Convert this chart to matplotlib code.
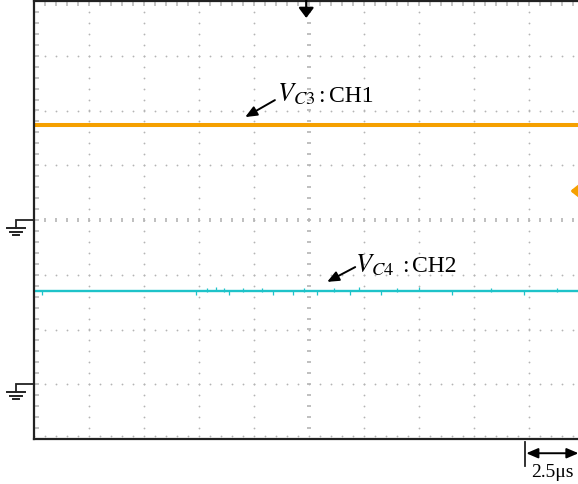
import numpy as np
import matplotlib.pyplot as plt

plt.rcParams['mathtext.fontset'] = 'stix'
plt.rcParams['font.family'] = ['Liberation Serif', 'DejaVu Serif']

# screen in divisions: 10 horizontal, 8 vertical
x_divs = 10
y_divs = 8

# channel levels (divisions from screen centre)
ch1_level = 1.735      # V_C3 on CH1
ch2_level = -1.30      # V_C4 on CH2
ch1_ground = 0.0
ch2_ground = -3.0
trig_level = 0.53

# small glitches seen on the CH2 trace (x in div, offset in div)
ch2_glitch_x = [-4.85, -2.05, -1.85, -1.7, -1.55, -1.45, -1.2, -0.85, -0.65, -0.3,
                -0.1, 0.15, 0.45, 0.75, 0.9, 1.3, 1.6, 2.0, 2.6, 3.3, 3.9, 4.5]
ch2_glitch_dy = [-0.03, -0.04, 0.03, 0.04, 0.03, -0.04, 0.03, 0.03, -0.04, -0.03,
                 0.03, -0.04, 0.03, -0.03, 0.04, -0.03, 0.03, 0.04, -0.03, 0.03, -0.03, 0.03]

orange = '#f5a000'
cyan = '#1ec3c9'
dot = '#b4b4b4'

fig = plt.figure(figsize=(5.78, 4.84), dpi=100)
ax = fig.add_axes([34 / 578, 45 / 484, 550 / 578, 438 / 484])
ax.set_xlim(-x_divs / 2, x_divs / 2)
ax.set_ylim(-y_divs / 2, y_divs / 2)
ax.set_xticks([])
ax.set_yticks([])
for s in ax.spines.values():
    s.set_linewidth(1.6)
    s.set_color('#222222')

# graticule
fx = np.arange(-5, 5.001, 0.2)
fy = np.arange(-4, 4.001, 0.2)
for i in range(-4, 5):
    if i == 0:
        continue
    ax.plot(np.full_like(fy, i), fy, ls='none', marker='o', ms=1.3, mew=0, color=dot)
for j in range(-3, 4):
    if j == 0:
        continue
    ax.plot(fx, np.full_like(fx, j), ls='none', marker='o', ms=1.3, mew=0, color=dot)
ax.plot(np.zeros_like(fy), fy, ls='none', marker='_', ms=3.5, mew=1.2, color=dot)
ax.plot(fx, np.zeros_like(fx), ls='none', marker='|', ms=3.5, mew=1.2, color=dot)
ax.plot(fx, np.full_like(fx, 3.95), ls='none', marker='|', ms=3, mew=1.1, color=dot)
ax.plot(fx, np.full_like(fx, -3.95), ls='none', marker='o', ms=1.3, mew=0, color=dot)
ax.plot(np.full_like(fy, -4.95), fy, ls='none', marker='_', ms=3, mew=1.1, color=dot)

# traces
ax.plot([-5, 5], [ch1_level, ch1_level], color=orange, lw=2.9, solid_capstyle='butt')
ax.plot([-5, 5], [ch2_level, ch2_level], color=cyan, lw=1.7, solid_capstyle='butt')
ax.plot(ch2_glitch_x, np.array(ch2_glitch_dy) + ch2_level, ls='none', marker='|',
        ms=2.2, mew=0.9, color=cyan)

# trigger position (top) and trigger level (right)
ax.annotate('', xy=(-0.05, 3.69), xytext=(-0.05, 4.02),
            arrowprops=dict(arrowstyle='-|>,head_length=0.6,head_width=0.45', lw=1.6,
                            color='black', shrinkA=0, shrinkB=0), annotation_clip=False)
ax.annotate('', xy=(4.75, trig_level), xytext=(4.95, trig_level),
            arrowprops=dict(arrowstyle='-|>,head_length=0.5,head_width=0.4', lw=2.5,
                            color=orange, shrinkA=0, shrinkB=0), annotation_clip=False)

# ground markers at left
px = 1 / 55.0
py = 1 / 54.75
for g in [ch1_ground, ch2_ground]:
    xs = -5 - 18 * px
    ax.plot([-5, xs, xs], [g, g, g - 8 * py], color='#222222', lw=1.3,
            clip_on=False, solid_joinstyle='miter')
    for dy, hw in [(8, 9), (11.5, 6), (15, 3)]:
        ax.plot([xs - hw * px, xs + hw * px], [g - dy * py] * 2, color='#222222',
                lw=1.4, clip_on=False)

# channel labels
ax.annotate('', xy=(-1.16, 1.88), xytext=(-0.62, 2.19),
            arrowprops=dict(arrowstyle='-|>,head_length=0.7,head_width=0.3', lw=1.4,
                            color='black', shrinkA=0, shrinkB=0))
ax.text(-0.58, 2.16, r'$V_{C\mathrm{3}}$', fontsize=19, va='baseline', ha='left')
ax.text(0.17, 2.16, ':', fontsize=17, va='baseline', ha='left')
ax.text(0.36, 2.16, 'CH1', fontsize=17, va='baseline', ha='left')

ax.annotate('', xy=(0.33, -1.13), xytext=(0.84, -0.86),
            arrowprops=dict(arrowstyle='-|>,head_length=0.7,head_width=0.3', lw=1.4,
                            color='black', shrinkA=0, shrinkB=0))
ax.text(0.84, -0.95, r'$V_{C\mathrm{4}}$', fontsize=19, va='baseline', ha='left')
ax.text(1.7, -0.95, ':', fontsize=17, va='baseline', ha='left')
ax.text(1.87, -0.95, 'CH2', fontsize=17, va='baseline', ha='left')

# time-base indicator
ax.plot([3.93, 3.93], [-4.05, -4.49], color='#222222', lw=1.3, clip_on=False)
ax.annotate('', xy=(3.95, -4.26), xytext=(4.9, -4.26),
            arrowprops=dict(arrowstyle='<|-|>,head_length=0.7,head_width=0.3', lw=1.4,
                            color='black', shrinkA=0, shrinkB=0), annotation_clip=False)
ax.text(4.04, -4.69, '2.5\u03bcs', fontsize=14, va='baseline', ha='left')

fig.savefig('out.png', dpi=100)
